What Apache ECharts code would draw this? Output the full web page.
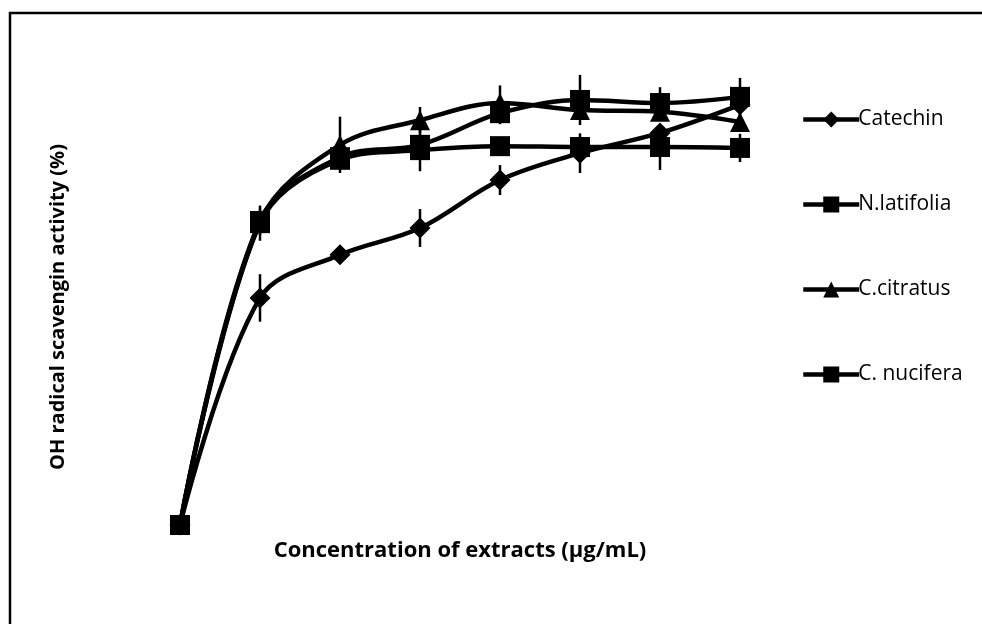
<!DOCTYPE html>
<html>
<head>
<meta charset="utf-8">
<script src="https://cdn.jsdelivr.net/npm/echarts@6/dist/echarts.min.js"></script>
<style>
html,body{margin:0;padding:0;background:#fff;}
#chart{width:982px;height:624px;}
</style>
</head>
<body>
<div id="chart"></div>
<script>
// Concentration categories (axis labels not shown in the original)
var categories = ['0', '20', '40', '60', '80', '100', '120', '140'];

// OH radical scavenging activity (%)
var catechin    = [0, 51.6, 61.4, 67.5, 78.4, 84.5, 89.1, 95.5];
var nLatifolia  = [0, 68.6, 83.0, 85.2, 86.1, 85.9, 85.9, 85.7];
var cCitratus   = [0, 68.9, 86.4, 92.0, 95.9, 94.3, 93.9, 91.6];
var cNucifera   = [0, 69.1, 83.6, 86.4, 93.6, 96.6, 95.9, 97.3];

// Error bar half-widths (%)
var catechinErr   = [0, 5.4, 1.0, 4.3, 3.4, 4.5, 2.0, 1.5];
var nLatifoliaErr = [0, 4.0, 2.0, 2.0, 1.5, 1.5, 5.2, 3.2];
var cCitratusErr  = [0, 3.0, 6.4, 3.0, 4.0, 2.0, 2.0, 2.0];
var cNuciferaErr  = [0, 2.0, 2.0, 6.0, 2.5, 5.7, 3.6, 4.3];

var seriesNames = ['Catechin', 'N.latifolia', 'C.citratus', 'C. nucifera'];

function errData(vals, errs) {
  return vals.map(function (v, i) { return [i, v - errs[i], v + errs[i]]; });
}
function errSeries(vals, errs) {
  return {
    type: 'custom',
    data: errData(vals, errs),
    silent: true,
    z: 1,
    encode: { x: 0, y: [1, 2] },
    renderItem: function (params, api) {
      var lo = api.coord([api.value(0), api.value(1)]);
      var hi = api.coord([api.value(0), api.value(2)]);
      return {
        type: 'line',
        shape: { x1: lo[0], y1: lo[1], x2: hi[0], y2: hi[1] },
        style: { stroke: '#000', lineWidth: 2.5 }
      };
    }
  };
}
function lineSeries(name, vals, symbol, size) {
  return {
    name: name,
    type: 'line',
    data: vals,
    smooth: 0.35,
    symbol: symbol,
    symbolSize: size,
    showAllSymbol: true,
    z: 3,
    lineStyle: { color: '#000', width: 4.5 },
    itemStyle: { color: '#000', borderWidth: 0 },
    emphasis: { disabled: true }
  };
}

var chart = echarts.init(document.getElementById('chart'));
chart.setOption({
  animation: false,
  backgroundColor: '#fff',
  grid: { left: 180, width: 560, top: 85, bottom: 99 },
  xAxis: {
    type: 'category',
    data: categories,
    boundaryGap: false,
    axisLine: { show: false },
    axisTick: { show: false },
    axisLabel: { show: false },
    splitLine: { show: false }
  },
  yAxis: {
    type: 'value',
    min: 0,
    max: 100,
    axisLine: { show: false },
    axisTick: { show: false },
    axisLabel: { show: false },
    splitLine: { show: false }
  },
  legend: {
    orient: 'vertical',
    left: 796,
    top: 104,
    itemWidth: 56,
    itemHeight: 20,
    itemGap: 64,
    data: seriesNames,
    lineStyle: { width: 4.5, color: '#000' },
    itemStyle: { color: '#000' },
    textStyle: { color: '#000', fontFamily: 'Open Sans', fontSize: 21, padding: [0, 0, 0, -6] }
  },
  graphic: [
    { type: 'rect', shape: { x: 10, y: 13, width: 1000, height: 700 }, style: { fill: 'none', stroke: '#000', lineWidth: 2.5 }, silent: true },
    { type: 'text', x: 58, y: 307, rotation: Math.PI / 2, style: { text: 'OH radical scavengin activity (%)', font: 'bold 20px "Open Sans"', fill: '#000', align: 'center', verticalAlign: 'middle' } },
    { type: 'text', x: 460, y: 551, style: { text: 'Concentration of extracts (µg/mL)', font: 'bold 22px "Open Sans"', fill: '#000', align: 'center', verticalAlign: 'middle' } }
  ],
  series: [
    errSeries(catechin, catechinErr),
    errSeries(nLatifolia, nLatifoliaErr),
    errSeries(cCitratus, cCitratusErr),
    errSeries(cNucifera, cNuciferaErr),
    lineSeries(seriesNames[0], catechin, 'diamond', 21),
    lineSeries(seriesNames[1], nLatifolia, 'rect', 20),
    lineSeries(seriesNames[2], cCitratus, 'triangle', 20),
    lineSeries(seriesNames[3], cNucifera, 'rect', 20)
  ]
});
</script>
</body>
</html>
